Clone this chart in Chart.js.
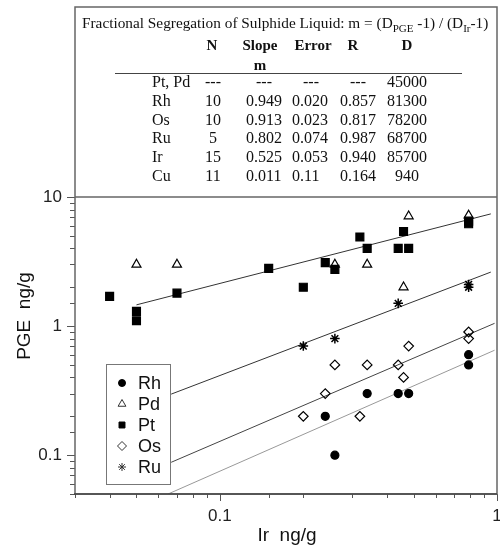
<!DOCTYPE html>
<html>
<head>
<meta charset="utf-8">
<title>PGE vs Ir</title>
<script src="https://cdn.jsdelivr.net/npm/chart.js@4.4.1/dist/chart.umd.min.js"></script>
<style>
  body { margin: 0; background: #fff; }
  #wrap { width: 500px; height: 549px; }
</style>
</head>
<body>
<div id="wrap"><canvas id="pgeChart" width="500" height="549"></canvas></div>
<script>
// data (Ir ng/g vs PGE ng/g)
const rhIr  = [0.24, 0.26, 0.34, 0.44, 0.48, 0.79, 0.79];
const rhPge = [0.2, 0.1, 0.3, 0.3, 0.3, 0.6, 0.5];
const pdIr  = [0.05, 0.07, 0.26, 0.34, 0.46, 0.48, 0.79];
const pdPge = [3.0, 3.0, 3.0, 3.0, 2.0, 7.1, 7.2];
const ptIr  = [0.04, 0.05, 0.05, 0.07, 0.15, 0.2, 0.24, 0.26, 0.32, 0.34, 0.44, 0.46, 0.48, 0.79, 0.79];
const ptPge = [1.7, 1.3, 1.1, 1.8, 2.8, 2.0, 3.1, 2.75, 4.9, 4.0, 4.0, 5.4, 4.0, 6.2, 6.5];
const osIr  = [0.2, 0.24, 0.26, 0.32, 0.34, 0.44, 0.46, 0.48, 0.79, 0.79];
const osPge = [0.2, 0.3, 0.5, 0.2, 0.5, 0.5, 0.4, 0.7, 0.9, 0.8];
const ruIr  = [0.2, 0.26, 0.44, 0.79, 0.79];
const ruPge = [0.7, 0.8, 1.5, 2.0, 2.1];

// regression line end points
const ptFitIr = [0.05, 0.95];   const ptFitPge = [1.46, 7.4];
const ruFitIr = [0.0667, 0.95]; const ruFitPge = [0.297, 2.62];
const osFitIr = [0.0667, 0.98]; const osFitPge = [0.088, 1.05];
const rhFitIr = [0.065, 0.98];  const rhFitPge = [0.05, 0.65];

// inset table
const tableHead = ["N", "Slope", "Error", "R", "D"];
const tableNames = ["Pt, Pd", "Rh", "Os", "Ru", "Ir", "Cu"];
const tableN     = ["---", "10", "10", "5", "15", "11"];
const tableSlope = ["---", "0.949", "0.913", "0.802", "0.525", "0.011"];
const tableErr   = ["---", "0.020", "0.023", "0.074", "0.053", "0.11"];
const tableR     = ["---", "0.857", "0.817", "0.987", "0.940", "0.164"];
const tableD     = ["45000", "81300", "78200", "68700", "85700", "940"];

const xTickLabels = ["0.1", "1"];
const yTickLabels = ["0.1", "1", "10"];

const pts = (xs, ys) => xs.map((v, i) => ({ x: v, y: ys[i] }));
const isDecade = v => Math.abs(Math.log10(v) - Math.round(Math.log10(v))) < 1e-6;
const fmt = v => String(Math.round(Math.pow(10, Math.round(Math.log10(v))) * 1000) / 1000);

const legendItems = [
  { label: "Rh", style: "circle", r: 3.5, fill: "#000" },
  { label: "Pd", style: "triangle", r: 4.5, fill: "rgba(0,0,0,0)" },
  { label: "Pt", style: "rect", r: 4.2, fill: "#000" },
  { label: "Os", style: "rectRot", r: 4.5, fill: "rgba(0,0,0,0)" },
  { label: "Ru", style: "star", r: 4, fill: "rgba(0,0,0,0)" }
];

function hline(ctx, x1, y1, x2, y2) {
  ctx.beginPath(); ctx.moveTo(x1, y1); ctx.lineTo(x2, y2); ctx.stroke();
}

const decorPlugin = {
  id: "decor",
  afterDraw(chart) {
    const { ctx, chartArea: a, scales } = chart;
    const xs = scales.x, ys = scales.y;
    ctx.save();

    // tick marks
    ctx.strokeStyle = "#555";
    ctx.lineWidth = 1;
    xs.ticks.forEach(t => {
      const px = Math.round(xs.getPixelForValue(t.value)) + 0.5;
      hline(ctx, px, a.bottom, px, a.bottom + (isDecade(t.value) ? 7 : 4));
    });
    ys.ticks.forEach(t => {
      const py = Math.round(ys.getPixelForValue(t.value)) + 0.5;
      hline(ctx, a.left - (isDecade(t.value) ? 8 : 5), py, a.left, py);
    });

    // frame around plot and table
    const top = 7;
    ctx.strokeStyle = "#666";
    ctx.lineWidth = 1.5;
    ctx.strokeRect(a.left, top, a.right - a.left, a.bottom - top);
    hline(ctx, a.left, a.top, a.right, a.top);
    ctx.strokeStyle = "#444";
    hline(ctx, a.left - 1, a.bottom, a.right, a.bottom);

    // axis titles
    ctx.fillStyle = "#111";
    ctx.font = "19px 'Liberation Sans', Arial, sans-serif";
    ctx.textAlign = "center";
    ctx.textBaseline = "middle";
    ctx.fillText("Ir  ng/g", 287, 536);
    ctx.save();
    ctx.translate(25, 316);
    ctx.rotate(-Math.PI / 2);
    ctx.fillText("PGE  ng/g", 0, 0);
    ctx.restore();

    // legend box
    const lx = 106, ly = 364, lw = 64, lh = 120;
    ctx.fillStyle = "#fff";
    ctx.fillRect(lx, ly, lw, lh);
    ctx.strokeStyle = "#777";
    ctx.lineWidth = 1;
    ctx.strokeRect(lx + 0.5, ly + 0.5, lw, lh);
    ctx.font = "18px 'Liberation Sans', Arial, sans-serif";
    ctx.textAlign = "left";
    legendItems.forEach((it, i) => {
      const cy = 383 + i * 21;
      ctx.fillStyle = it.fill;
      ctx.strokeStyle = it.style === "circle" || it.style === "rect" ? "#000" : "#333";
      ctx.lineWidth = 1;
      Chart.helpers.drawPoint(ctx, { pointStyle: it.style, radius: it.r, rotation: 0, borderWidth: 1 }, 122, cy);
      ctx.fillStyle = "#111";
      ctx.fillText(it.label, 138, cy + 1);
    });

    // inset table
    const serif = "'Liberation Serif', 'Times New Roman', serif";
    ctx.fillStyle = "#111";
    ctx.textBaseline = "alphabetic";
    ctx.textAlign = "left";
    let tx = 82;
    const segs = [
      ["Fractional Segregation of Sulphide Liquid: m = (D", 15.3, 0],
      ["PGE", 11, 4],
      [" -1) / (D", 15.3, 0],
      ["Ir", 11, 4],
      ["-1)", 15.3, 0]
    ];
    segs.forEach(([s, size, dy]) => {
      ctx.font = size + "px " + serif;
      ctx.fillText(s, tx, 28 + dy);
      tx += ctx.measureText(s).width;
    });

    ctx.font = "bold 15px " + serif;
    ctx.textAlign = "center";
    const headX = [212, 260, 313, 353, 407];
    tableHead.forEach((h, i) => ctx.fillText(h, headX[i], 50));
    ctx.fillText("m", 260, 70);

    ctx.strokeStyle = "#444";
    ctx.lineWidth = 1;
    hline(ctx, 115, 73.5, 462, 73.5);

    ctx.font = "16px " + serif;
    tableNames.forEach((name, i) => {
      const by = 87 + i * 18.8;
      ctx.textAlign = "left";
      ctx.fillText(name, 152, by);
      ctx.textAlign = "center";
      ctx.fillText(tableN[i], 213, by);
      if (i === 0) {
        ctx.fillText(tableSlope[i], 264, by);
        ctx.fillText(tableErr[i], 311, by);
        ctx.fillText(tableR[i], 358, by);
      } else {
        ctx.textAlign = "left";
        ctx.fillText(tableSlope[i], 246, by);
        ctx.fillText(tableErr[i], 292, by);
        ctx.fillText(tableR[i], 340, by);
      }
      ctx.textAlign = "center";
      ctx.fillText(tableD[i], 407, by);
    });

    ctx.restore();
  }
};

const scatterSet = (label, xs, ys, style, r, filled, extra) => Object.assign({
  type: "scatter",
  label,
  data: pts(xs, ys),
  pointStyle: style,
  pointRadius: r,
  pointHoverRadius: r,
  pointBorderWidth: 1.2,
  pointBorderColor: "#000",
  pointBackgroundColor: filled ? "#000" : "rgba(0,0,0,0)",
  showLine: false
}, extra || {});

const fitSet = (label, xs, ys, color) => ({
  type: "line",
  label,
  data: pts(xs, ys),
  borderColor: color,
  borderWidth: 1,
  pointRadius: 0,
  fill: false,
  tension: 0
});

const ctx = document.getElementById("pgeChart").getContext("2d");
new Chart(ctx, {
  data: {
    datasets: [
      scatterSet("Rh", rhIr, rhPge, "circle", 4, true),
      scatterSet("Pd", pdIr, pdPge, "triangle", 5.2, false),
      scatterSet("Pt", ptIr, ptPge, "rect", 5.6, true),
      scatterSet("Os", osIr, osPge, "rectRot", 4.8, false),
      scatterSet("Ru", ruIr, ruPge, "star", 4.8, false, { pointBorderWidth: 1.5 }),
      fitSet("Pt fit", ptFitIr, ptFitPge, "#333"),
      fitSet("Ru fit", ruFitIr, ruFitPge, "#333"),
      fitSet("Os fit", osFitIr, osFitPge, "#444"),
      fitSet("Rh fit", rhFitIr, rhFitPge, "#999")
    ]
  },
  options: {
    responsive: false,
    animation: false,
    events: [],
    layout: { autoPadding: false, padding: { top: 197, right: 3, left: 0, bottom: 0 } },
    plugins: { legend: { display: false }, tooltip: { enabled: false } },
    scales: {
      x: {
        type: "logarithmic",
        min: 0.03,
        max: 1,
        grid: { display: false, drawTicks: false },
        border: { display: false },
        afterFit: s => { s.height = 55; s.paddingLeft = 0; s.paddingRight = 0; },
        ticks: {
          autoSkip: false,
          maxRotation: 0,
          padding: 12,
          color: "#222",
          font: { family: "'Liberation Sans', Arial, sans-serif", size: 17 },
          callback: v => (isDecade(v) && xTickLabels.includes(fmt(v)) ? fmt(v) : "")
        }
      },
      y: {
        type: "logarithmic",
        min: 0.05,
        max: 10,
        grid: { display: false, drawTicks: false },
        border: { display: false },
        afterFit: s => { s.width = 75; s.paddingTop = 0; s.paddingBottom = 0; },
        ticks: {
          autoSkip: false,
          padding: 13,
          color: "#222",
          font: { family: "'Liberation Sans', Arial, sans-serif", size: 17 },
          callback: v => (isDecade(v) && yTickLabels.includes(fmt(v)) ? fmt(v) : "")
        }
      }
    }
  },
  plugins: [decorPlugin]
});
</script>
</body>
</html>
